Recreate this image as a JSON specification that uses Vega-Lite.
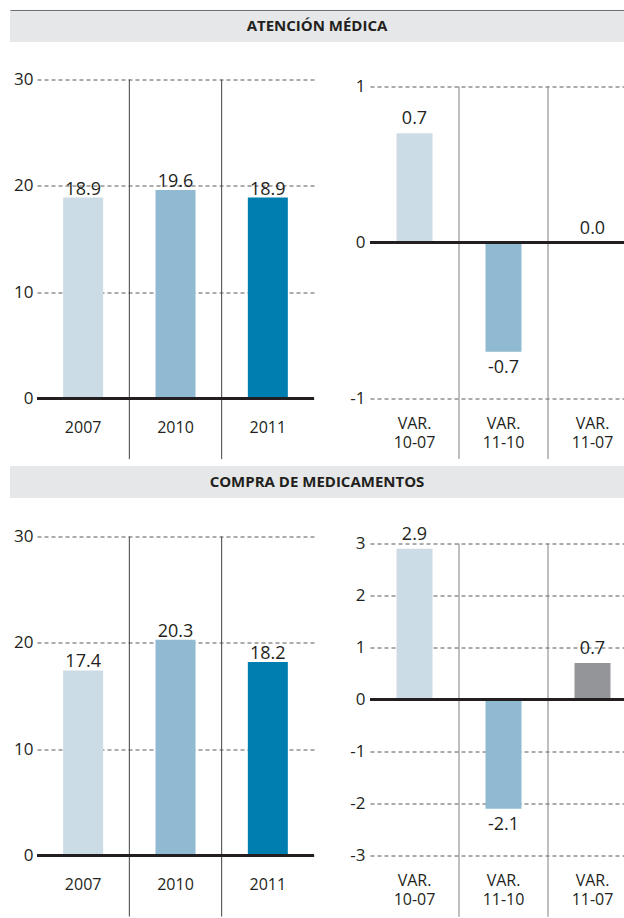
{
  "$schema": "https://vega.github.io/schema/vega-lite/v6.json",
  "padding": {"left": 10, "top": 9, "right": 0, "bottom": 0},
  "config": {
    "view": {"stroke": null},
    "font": "Open Sans",
    "locale": {"number": {"decimal": ".", "thousands": ",", "grouping": [3], "currency": ["$", ""], "minus": "-"}},
    "axis": {"ticks": false, "domain": false, "title": null, "labelColor": "#231f20", "gridColor": "#58595b", "gridDash": [4, 3], "gridWidth": 1},
    "axisX": {"grid": false, "labelAngle": 0, "labelFontSize": 16},
    "axisY": {"grid": true, "labelFontSize": 17, "labelPadding": 4, "format": ".0f"},
    "text": {"color": "#231f20"}
  },
  "datasets": {
    "aten_abs": [{"anio": "2007", "v": 18.9}, {"anio": "2010", "v": 19.6}, {"anio": "2011", "v": 18.9}],
    "aten_var": [{"cat": "VAR. 10-07", "v": 0.7}, {"cat": "VAR. 11-10", "v": -0.7}, {"cat": "VAR. 11-07", "v": 0.0}],
    "comp_abs": [{"anio": "2007", "v": 17.4}, {"anio": "2010", "v": 20.3}, {"anio": "2011", "v": 18.2}],
    "comp_var": [{"cat": "VAR. 10-07", "v": 2.9}, {"cat": "VAR. 11-10", "v": -2.1}, {"cat": "VAR. 11-07", "v": 0.7}]
  },
  "spacing": 6,
  "vconcat": [
    {
      "spacing": 28.5,
      "vconcat": [
        {
          "width": 587, "height": 32,
          "data": {"values": [{"t": "ATENCIÓN MÉDICA"}]},
          "layer": [
            {"mark": {"type": "rect", "color": "#e6e7e8"},
             "encoding": {
               "x": {"datum": -27, "type": "quantitative", "scale": {"domain": [0, 587], "nice": false, "zero": false}, "axis": null},
               "x2": {"datum": 587}
             }},
            {"mark": {"type": "rule", "color": "#6d6e71", "strokeWidth": 1},
             "encoding": {
               "x": {"datum": -26.5, "type": "quantitative", "scale": {"domain": [0, 587], "nice": false, "zero": false}, "axis": null},
               "x2": {"datum": 587},
               "y": {"datum": 0.985, "type": "quantitative", "scale": {"domain": [0, 1]}, "axis": null}
             }},
            {"mark": {"type": "text", "fontSize": 15, "fontWeight": "bold"},
             "encoding": {
               "x": {"datum": 280, "type": "quantitative", "scale": {"domain": [0, 587], "nice": false, "zero": false}, "axis": null},
               "text": {"field": "t"}
             }}
          ]
        },
        {
          "hconcat": [
            {
              "width": 277, "height": 319,
              "data": {"name": "aten_abs"},
              "layer": [
                {"mark": {"type": "bar", "width": 40},
                 "encoding": {
                   "x": {"field": "anio", "type": "nominal", "scale": {"domain": ["2007", "2010", "2011"], "paddingInner": 0, "paddingOuter": 0}, "axis": {"labelPadding": 21}},
                   "y": {"field": "v", "type": "quantitative", "scale": {"domain": [0, 30], "nice": false, "zero": false}, "axis": {"values": [0, 10, 20, 30], "minExtent": 27}},
                   "color": {"condition": [{"test": "datum.anio === '2007'", "value": "#cbdce6"}, {"test": "datum.anio === '2010'", "value": "#8fbad1"}], "value": "#007eaf"}
                 }},
                {"transform": [{"filter": "datum.anio !== '2007'"}],
                 "mark": {"type": "rule", "color": "#414042", "strokeWidth": 1},
                 "encoding": {
                   "x": {"field": "anio", "type": "nominal", "bandPosition": 0, "scale": {"domain": ["2007", "2010", "2011"], "paddingInner": 0, "paddingOuter": 0}},
                   "y": {"datum": 30, "type": "quantitative", "scale": {"domain": [0, 30], "nice": false, "zero": false}},
                   "y2": {"datum": -5.7}
                 }},
                {"mark": {"type": "text", "baseline": "alphabetic", "dy": -3, "fontSize": 18},
                 "encoding": {
                   "x": {"field": "anio", "type": "nominal", "scale": {"domain": ["2007", "2010", "2011"], "paddingInner": 0, "paddingOuter": 0}},
                   "y": {"field": "v", "type": "quantitative", "scale": {"domain": [0, 30], "nice": false, "zero": false}},
                   "text": {"field": "v", "type": "quantitative", "format": ".1f"}
                 }},
                {"data": {"values": [{}]},
                 "mark": {"type": "rule", "color": "#231f20", "strokeWidth": 3},
                 "encoding": {"y": {"datum": 0, "type": "quantitative", "scale": {"domain": [0, 30], "nice": false, "zero": false}}}}
              ]
            },
            {
              "width": 254, "height": 319,
              "data": {"name": "aten_var"},
              "layer": [
                {"mark": {"type": "bar", "width": 36},
                 "encoding": {
                   "x": {"field": "cat", "type": "nominal", "scale": {"domain": ["VAR. 10-07", "VAR. 11-10", "VAR. 11-07"], "range": [0, 267], "paddingInner": 0, "paddingOuter": 0}, "axis": {"labelPadding": 17, "labelExpr": "split(datum.value, ' ')", "labelLineHeight": 19}},
                   "y": {"field": "v", "type": "quantitative", "scale": {"domain": [-1, 1.045], "nice": false, "zero": false}, "axis": {"values": [-1, 0, 1], "labelPadding": 5}},
                   "color": {"condition": [{"test": "datum.cat === 'VAR. 10-07'", "value": "#cbdce6"}, {"test": "datum.cat === 'VAR. 11-10'", "value": "#8fbad1"}], "value": "#939598"}
                 }},
                {"transform": [{"filter": "datum.cat !== 'VAR. 10-07'"}],
                 "mark": {"type": "rule", "color": "#808080", "strokeWidth": 1},
                 "encoding": {
                   "x": {"field": "cat", "type": "nominal", "bandPosition": 0, "scale": {"domain": ["VAR. 10-07", "VAR. 11-10", "VAR. 11-07"], "range": [0, 267], "paddingInner": 0, "paddingOuter": 0}},
                   "y": {"datum": 1, "type": "quantitative", "scale": {"domain": [-1, 1.045], "nice": false, "zero": false}},
                   "y2": {"datum": -1.387}
                 }},
                {"transform": [{"filter": "datum.v >= 0"}],
                 "mark": {"type": "text", "baseline": "alphabetic", "dy": -9, "fontSize": 18},
                 "encoding": {
                   "x": {"field": "cat", "type": "nominal", "scale": {"domain": ["VAR. 10-07", "VAR. 11-10", "VAR. 11-07"], "range": [0, 267], "paddingInner": 0, "paddingOuter": 0}},
                   "y": {"field": "v", "type": "quantitative", "scale": {"domain": [-1, 1.045], "nice": false, "zero": false}},
                   "text": {"field": "v", "type": "quantitative", "format": ".1f"}
                 }},
                {"transform": [{"filter": "datum.v < 0"}],
                 "mark": {"type": "text", "baseline": "top", "dy": 7.6, "fontSize": 18},
                 "encoding": {
                   "x": {"field": "cat", "type": "nominal", "scale": {"domain": ["VAR. 10-07", "VAR. 11-10", "VAR. 11-07"], "range": [0, 267], "paddingInner": 0, "paddingOuter": 0}},
                   "y": {"field": "v", "type": "quantitative", "scale": {"domain": [-1, 1.045], "nice": false, "zero": false}},
                   "text": {"field": "v", "type": "quantitative", "format": ".1f"}
                 }},
                {"data": {"values": [{}]},
                 "mark": {"type": "rule", "color": "#231f20", "strokeWidth": 3},
                 "encoding": {"y": {"datum": 0, "type": "quantitative", "scale": {"domain": [-1, 1.045], "nice": false, "zero": false}}}}
              ]
            }
          ],
          "spacing": 56,
          "bounds": "flush"
        }
      ]
    },
    {
      "spacing": 27.5,
      "vconcat": [
        {
          "width": 587, "height": 32,
          "data": {"values": [{"t": "COMPRA DE MEDICAMENTOS"}]},
          "layer": [
            {"mark": {"type": "rect", "color": "#e6e7e8"},
             "encoding": {
               "x": {"datum": -27, "type": "quantitative", "scale": {"domain": [0, 587], "nice": false, "zero": false}, "axis": null},
               "x2": {"datum": 587}
             }},
            {"mark": {"type": "text", "fontSize": 15, "fontWeight": "bold"},
             "encoding": {
               "x": {"datum": 280, "type": "quantitative", "scale": {"domain": [0, 587], "nice": false, "zero": false}, "axis": null},
               "text": {"field": "t"}
             }}
          ]
        },
        {
          "hconcat": [
            {
              "width": 277, "height": 319,
              "data": {"name": "comp_abs"},
              "layer": [
                {"mark": {"type": "bar", "width": 40},
                 "encoding": {
                   "x": {"field": "anio", "type": "nominal", "scale": {"domain": ["2007", "2010", "2011"], "paddingInner": 0, "paddingOuter": 0}, "axis": {"labelPadding": 21}},
                   "y": {"field": "v", "type": "quantitative", "scale": {"domain": [0, 30], "nice": false, "zero": false}, "axis": {"values": [0, 10, 20, 30], "minExtent": 27}},
                   "color": {"condition": [{"test": "datum.anio === '2007'", "value": "#cbdce6"}, {"test": "datum.anio === '2010'", "value": "#8fbad1"}], "value": "#007eaf"}
                 }},
                {"transform": [{"filter": "datum.anio !== '2007'"}],
                 "mark": {"type": "rule", "color": "#414042", "strokeWidth": 1},
                 "encoding": {
                   "x": {"field": "anio", "type": "nominal", "bandPosition": 0, "scale": {"domain": ["2007", "2010", "2011"], "paddingInner": 0, "paddingOuter": 0}},
                   "y": {"datum": 30, "type": "quantitative", "scale": {"domain": [0, 30], "nice": false, "zero": false}},
                   "y2": {"datum": -5.74}
                 }},
                {"mark": {"type": "text", "baseline": "alphabetic", "dy": -3, "fontSize": 18},
                 "encoding": {
                   "x": {"field": "anio", "type": "nominal", "scale": {"domain": ["2007", "2010", "2011"], "paddingInner": 0, "paddingOuter": 0}},
                   "y": {"field": "v", "type": "quantitative", "scale": {"domain": [0, 30], "nice": false, "zero": false}},
                   "text": {"field": "v", "type": "quantitative", "format": ".1f"}
                 }},
                {"data": {"values": [{}]},
                 "mark": {"type": "rule", "color": "#231f20", "strokeWidth": 3},
                 "encoding": {"y": {"datum": 0, "type": "quantitative", "scale": {"domain": [0, 30], "nice": false, "zero": false}}}}
              ]
            },
            {
              "width": 254, "height": 319,
              "data": {"name": "comp_var"},
              "layer": [
                {"mark": {"type": "bar", "width": 36},
                 "encoding": {
                   "x": {"field": "cat", "type": "nominal", "scale": {"domain": ["VAR. 10-07", "VAR. 11-10", "VAR. 11-07"], "range": [0, 267], "paddingInner": 0, "paddingOuter": 0}, "axis": {"labelPadding": 17, "labelExpr": "split(datum.value, ' ')", "labelLineHeight": 19}},
                   "y": {"field": "v", "type": "quantitative", "scale": {"domain": [-3, 3.135], "nice": false, "zero": false}, "axis": {"values": [-3, -2, -1, 0, 1, 2, 3], "labelPadding": 5}},
                   "color": {"condition": [{"test": "datum.cat === 'VAR. 10-07'", "value": "#cbdce6"}, {"test": "datum.cat === 'VAR. 11-10'", "value": "#8fbad1"}], "value": "#939598"}
                 }},
                {"transform": [{"filter": "datum.cat !== 'VAR. 10-07'"}],
                 "mark": {"type": "rule", "color": "#808080", "strokeWidth": 1},
                 "encoding": {
                   "x": {"field": "cat", "type": "nominal", "bandPosition": 0, "scale": {"domain": ["VAR. 10-07", "VAR. 11-10", "VAR. 11-07"], "range": [0, 267], "paddingInner": 0, "paddingOuter": 0}},
                   "y": {"datum": 3, "type": "quantitative", "scale": {"domain": [-3, 3.135], "nice": false, "zero": false}},
                   "y2": {"datum": -4.18}
                 }},
                {"transform": [{"filter": "datum.v >= 0"}],
                 "mark": {"type": "text", "baseline": "alphabetic", "dy": -9, "fontSize": 18},
                 "encoding": {
                   "x": {"field": "cat", "type": "nominal", "scale": {"domain": ["VAR. 10-07", "VAR. 11-10", "VAR. 11-07"], "range": [0, 267], "paddingInner": 0, "paddingOuter": 0}},
                   "y": {"field": "v", "type": "quantitative", "scale": {"domain": [-3, 3.135], "nice": false, "zero": false}},
                   "text": {"field": "v", "type": "quantitative", "format": ".1f"}
                 }},
                {"transform": [{"filter": "datum.v < 0"}],
                 "mark": {"type": "text", "baseline": "top", "dy": 7.6, "fontSize": 18},
                 "encoding": {
                   "x": {"field": "cat", "type": "nominal", "scale": {"domain": ["VAR. 10-07", "VAR. 11-10", "VAR. 11-07"], "range": [0, 267], "paddingInner": 0, "paddingOuter": 0}},
                   "y": {"field": "v", "type": "quantitative", "scale": {"domain": [-3, 3.135], "nice": false, "zero": false}},
                   "text": {"field": "v", "type": "quantitative", "format": ".1f"}
                 }},
                {"data": {"values": [{}]},
                 "mark": {"type": "rule", "color": "#231f20", "strokeWidth": 3},
                 "encoding": {"y": {"datum": 0, "type": "quantitative", "scale": {"domain": [-3, 3.135], "nice": false, "zero": false}}}}
              ]
            }
          ],
          "spacing": 56,
          "bounds": "flush"
        }
      ]
    }
  ]
}
